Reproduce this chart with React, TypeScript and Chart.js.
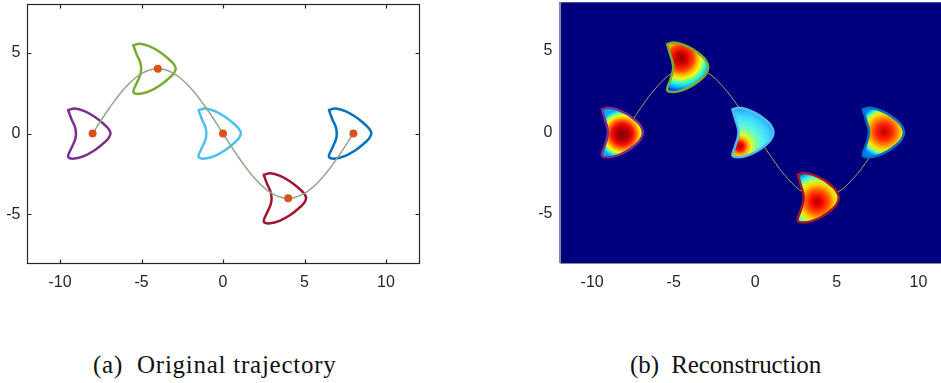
import React, { useEffect, useRef } from 'react';
import { Chart, registerables } from 'chart.js';

Chart.register(...registerables);

// ---------- data ----------
const xTicks = [-10, -5, 0, 5, 10];
const yTicks = [-5, 0, 5];
const xRange = [-12, 12];
const yRange = [-8, 8];

const centerX = [-8, -4, 0, 4, 8];
const centerY = [0, 4, 0, -4, 0];

const trajX = [-8, -7, -6, -5, -4, -3, -2, -1, 0, 1, 2, 3, 4, 5, 6, 7, 8];
const trajY = [0, 1.53, 2.83, 3.7, 4, 3.7, 2.83, 1.53, 0, -1.53, -2.83, -3.7, -4, -3.7, -2.83, -1.53, 0];

// outline of the original crescent, relative to its centre
const origShapeX = [-1.5, -1.1, -0.5, 0.1, 0.6, 0.95, 1.1, 0.95, 0.6, 0.1, -0.5, -1.1, -1.5, -1.3, -1.08, -1.02, -1.08, -1.3, -1.5];
const origShapeY = [1.45, 1.55, 1.38, 1.05, 0.66, 0.32, 0, -0.32, -0.66, -1.05, -1.38, -1.55, -1.45, -0.9, -0.4, 0, 0.4, 0.9, 1.45];

// outline of the reconstructed crescent, relative to its centre
const reconShapeX = [-1.4, -1.0, -0.5, 0.1, 0.6, 0.95, 1.12, 0.95, 0.6, 0.1, -0.5, -1.0, -1.4, -1.22, -1.08, -1.03, -1.08, -1.22, -1.4];
const reconShapeY = [1.42, 1.52, 1.42, 1.15, 0.8, 0.45, 0, -0.45, -0.8, -1.15, -1.42, -1.52, -1.42, -0.8, -0.35, 0, 0.35, 0.8, 1.42];

// density hot spots of the reconstruction
const hotX = [-8.15, -4.55, -0.95, 3.8, 7.9];
const hotY = [-0.1, 4.55, -0.85, -4.25, 0.05];
const hotR = [1.5, 2.0, 2.4, 2.1, 1.6];

// ---------- styles ----------
const shapeColors = ['#7E2F8E', '#77AC30', '#4DBEEE', '#A2142F', '#0072BD'];
const heatStops: [number, string][][] = [
  [[0, '#8a0000'], [0.25, '#b00000'], [0.45, '#ff1000'], [0.62, '#ff9000'], [0.76, '#ffff00'], [0.88, '#40ffc0'], [1, '#00b0ff']],
  [[0, '#900000'], [0.2, '#e00000'], [0.38, '#ff4000'], [0.5, '#ffb000'], [0.62, '#f0ff10'], [0.75, '#40ffc0'], [0.88, '#00c0ff'], [1, '#0040ff']],
  [[0, '#a00000'], [0.1, '#ff0000'], [0.2, '#ffa000'], [0.3, '#e0ff20'], [0.42, '#80ffa0'], [0.6, '#50f0f0'], [0.8, '#40d0ff'], [1, '#20a0ff']],
  [[0, '#a00000'], [0.15, '#ff0000'], [0.35, '#ff6000'], [0.5, '#ffd000'], [0.62, '#c0ff40'], [0.75, '#40ffe0'], [0.87, '#00a0ff'], [1, '#0020e0']],
  [[0, '#c00000'], [0.3, '#ff2000'], [0.5, '#ff8000'], [0.68, '#ffe000'], [0.8, '#a0ff60'], [0.9, '#20e0ff'], [1, '#0080ff']],
];
const FONT = { family: '"Liberation Sans", Arial, Helvetica, sans-serif', size: 16 };
const TXT = '#262626';

const shapePoints = (k: number, xs: number[], ys: number[]) =>
  xs.map((dx, i) => ({ x: centerX[k] + dx, y: centerY[k] + ys[i] }));
const trajPoints = trajX.map((x, i) => ({ x, y: trajY[i] }));
const centerPoints = centerX.map((x, i) => ({ x, y: centerY[i] }));

function scalesCfg(yWidth: number, xHeight: number, yPad: number, xPad: number) {
  return {
    x: {
      type: 'linear' as const,
      min: xRange[0],
      max: xRange[1],
      afterBuildTicks: (axis: any) => { axis.ticks = xTicks.map((v) => ({ value: v })); },
      afterFit: (axis: any) => {
        axis.height = xHeight;
        axis.paddingLeft = 0; axis.paddingRight = 0; axis.paddingTop = 0; axis.paddingBottom = 0;
      },
      ticks: { font: FONT, color: TXT, padding: xPad, maxRotation: 0 },
      grid: { display: false, drawTicks: false },
      border: { display: false },
    },
    y: {
      type: 'linear' as const,
      min: yRange[0],
      max: yRange[1],
      afterBuildTicks: (axis: any) => { axis.ticks = yTicks.map((v) => ({ value: v })); },
      afterFit: (axis: any) => {
        axis.width = yWidth;
        axis.paddingLeft = 0; axis.paddingRight = 0; axis.paddingTop = 0; axis.paddingBottom = 0;
      },
      ticks: { font: FONT, color: TXT, padding: yPad },
      grid: { display: false, drawTicks: false },
      border: { display: false },
    },
  };
}

const matlabBox = {
  id: 'matlabBox',
  afterDraw(chart: any) {
    const { ctx, chartArea: a, scales } = chart;
    ctx.save();
    ctx.strokeStyle = TXT;
    ctx.lineWidth = 1.2;
    const l = Math.round(a.left) + 0.5, t = Math.round(a.top) + 0.5;
    const r = Math.round(a.right) + 0.5, b = Math.round(a.bottom) + 0.5;
    ctx.strokeRect(l, t, r - l, b - t);
    const L = 4;
    ctx.beginPath();
    for (const v of xTicks) {
      const px = Math.round(scales.x.getPixelForValue(v)) + 0.5;
      ctx.moveTo(px, b); ctx.lineTo(px, b - L);
      ctx.moveTo(px, t); ctx.lineTo(px, t + L);
    }
    for (const v of yTicks) {
      const py = Math.round(scales.y.getPixelForValue(v)) + 0.5;
      ctx.moveTo(l, py); ctx.lineTo(l + L, py);
      ctx.moveTo(r, py); ctx.lineTo(r - L, py);
    }
    ctx.stroke();
    ctx.restore();
  },
};

const navyArea = {
  id: 'navyArea',
  beforeDatasetsDraw(chart: any) {
    const { ctx, chartArea: a } = chart;
    ctx.save();
    ctx.fillStyle = '#00007f';
    ctx.fillRect(a.left, a.top, a.right - a.left, a.bottom - a.top);
    ctx.restore();
  },
  afterDraw(chart: any) {
    const { ctx, chartArea: a } = chart;
    ctx.save();
    ctx.strokeStyle = '#8a8a9a';
    ctx.lineWidth = 1;
    const l = Math.round(a.left) + 0.5, b = Math.round(a.bottom) + 0.5;
    ctx.beginPath();
    ctx.moveTo(l, a.top); ctx.lineTo(l, b); ctx.lineTo(a.right, b);
    ctx.stroke();
    ctx.strokeStyle = 'rgba(120,120,200,0.6)';
    ctx.beginPath();
    ctx.moveTo(l, Math.round(a.top) + 0.5); ctx.lineTo(a.right, Math.round(a.top) + 0.5);
    ctx.stroke();
    ctx.restore();
  },
};

function heatFill(k: number) {
  return (c: any) => {
    const chart = c.chart;
    const xs = chart.scales?.x, ys = chart.scales?.y;
    if (!xs || !ys || !chart.chartArea) return 'rgba(0,0,0,0)';
    const cx = xs.getPixelForValue(hotX[k]);
    const cy = ys.getPixelForValue(hotY[k]);
    const r = Math.abs(xs.getPixelForValue(hotX[k] + hotR[k]) - cx);
    const g = chart.ctx.createRadialGradient(cx, cy, 0, cx, cy, r);
    heatStops[k].forEach(([o, col]) => g.addColorStop(o, col));
    return g;
  };
}

function LeftChart() {
  const ref = useRef<HTMLCanvasElement>(null);
  useEffect(() => {
    const datasets: any[] = [
      {
        data: centerPoints, showLine: false, pointRadius: 4, pointBackgroundColor: '#D95319',
        pointBorderWidth: 0, order: 0,
      },
      {
        data: trajPoints, showLine: true, tension: 0.4, borderColor: '#8ea68a', borderWidth: 1.5,
        pointRadius: 0, order: 1,
      },
      ...centerX.map((_, k) => ({
        data: shapePoints(k, origShapeX, origShapeY), showLine: true, tension: 0.35,
        borderColor: shapeColors[k], borderWidth: 2.5, pointRadius: 0, order: 2,
        borderJoinStyle: 'round', borderCapStyle: 'round',
      })),
    ];
    const chart = new Chart(ref.current!, {
      type: 'scatter',
      data: { datasets },
      options: {
        animation: false, responsive: false, devicePixelRatio: 1, events: [],
        layout: { padding: { left: 0, top: 2, right: 11.4, bottom: 0 } },
        plugins: { legend: { display: false }, tooltip: { enabled: false } },
        scales: scalesCfg(27.4, 37, 7, 10) as any,
      },
      plugins: [matlabBox],
    });
    return () => chart.destroy();
  }, []);
  return <canvas ref={ref} width={430} height={300} style={{ position: 'absolute', left: 0, top: 0, width: 430, height: 300 }} />;
}

function RightChart() {
  const ref = useRef<HTMLCanvasElement>(null);
  useEffect(() => {
    const datasets: any[] = [
      ...centerX.map((_, k) => ({
        data: shapePoints(k, reconShapeX, reconShapeY), showLine: true, tension: 0.35,
        borderColor: shapeColors[k], borderWidth: 2.5, pointRadius: 0, order: 1,
        fill: 'shape', backgroundColor: heatFill(k),
        borderJoinStyle: 'round', borderCapStyle: 'round',
      })),
      {
        data: trajPoints, showLine: true, tension: 0.4, borderColor: '#a4a456', borderWidth: 1,
        pointRadius: 0, order: 3,
      },
    ];
    const chart = new Chart(ref.current!, {
      type: 'scatter',
      data: { datasets },
      options: {
        animation: false, responsive: false, devicePixelRatio: 1, events: [],
        layout: { padding: { left: 0, top: 2, right: 10, bottom: 0 } },
        plugins: { legend: { display: false }, tooltip: { enabled: false }, filler: { propagate: false } },
        scales: scalesCfg(39.5, 37, 7, 10) as any,
      },
      plugins: [navyArea],
    });
    chart.update();
    return () => chart.destroy();
  }, []);
  return <canvas ref={ref} width={441} height={300} style={{ position: 'absolute', left: 520, top: 0, width: 441, height: 300 }} />;
}

export default function App() {
  const cap: React.CSSProperties = {
    position: 'absolute', top: 350, fontFamily: '"Liberation Serif", "Times New Roman", serif',
    fontSize: 25, color: '#111', whiteSpace: 'nowrap', lineHeight: '30px',
  };
  return (
    <div style={{ position: 'fixed', left: 0, top: 0, width: 941, height: 383, overflow: 'hidden', background: '#fff' }}>
      <LeftChart />
      <RightChart />
      <div style={{ ...cap, left: 93, letterSpacing: '0.75px' }}>(a)&nbsp;&nbsp;Original trajectory</div>
      <div style={{ ...cap, left: 630, letterSpacing: '-0.1px' }}>(b)&nbsp;&nbsp;Reconstruction</div>
    </div>
  );
}
